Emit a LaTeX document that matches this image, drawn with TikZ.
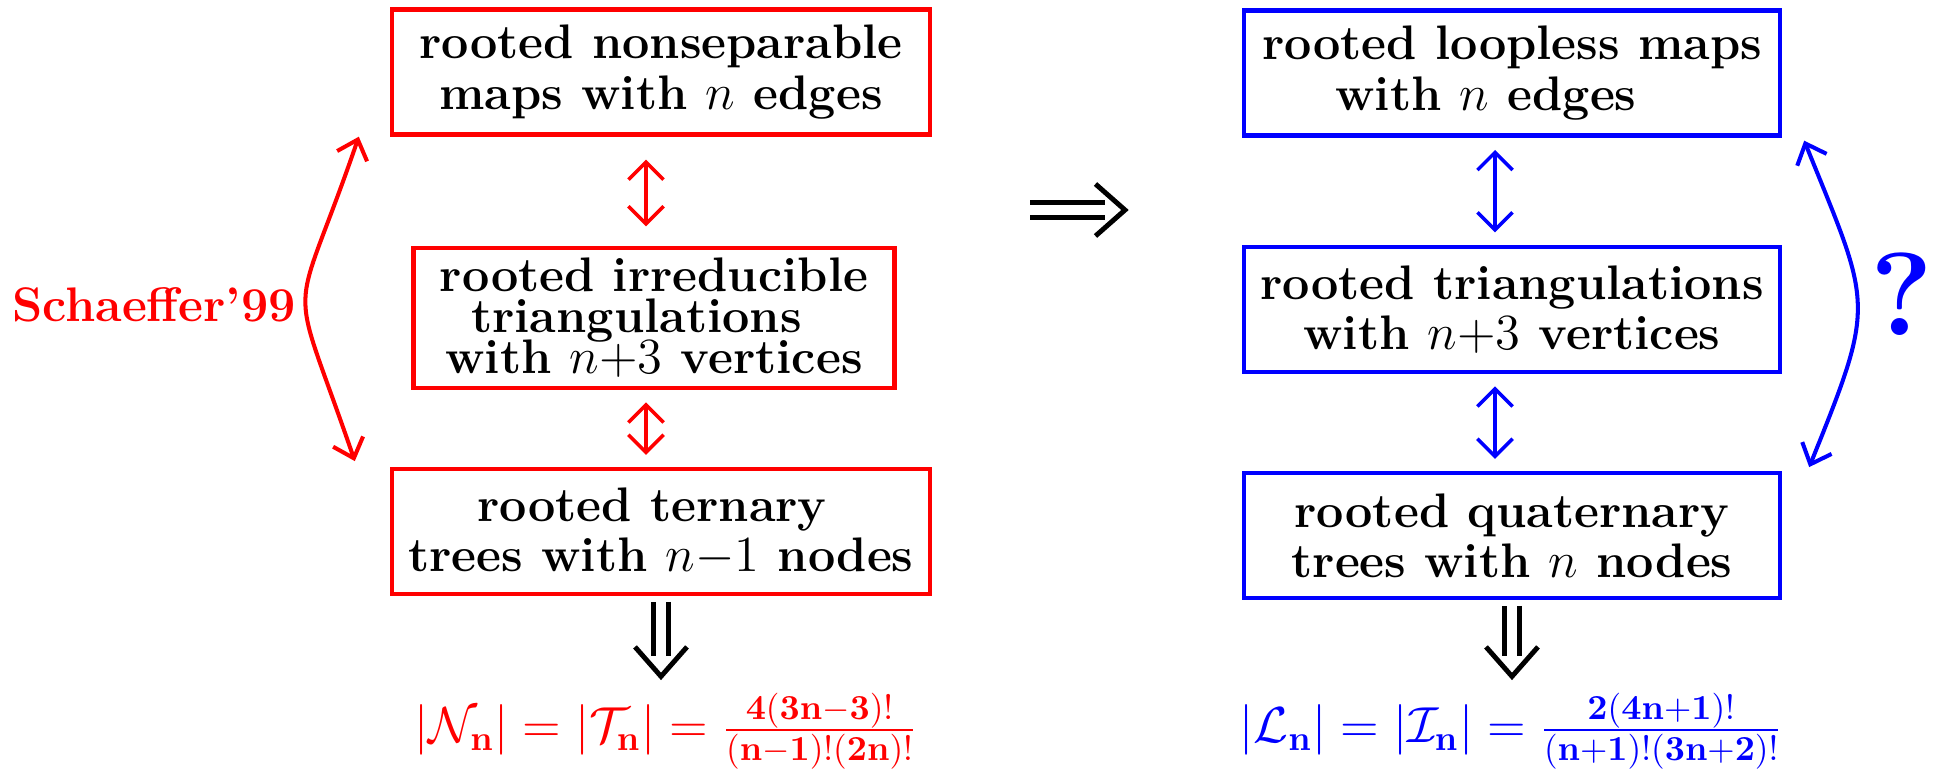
\documentclass[tikz,border=0pt]{standalone}
\usetikzlibrary{positioning,arrows.meta}
\setlength{\lineskiplimit}{-10pt}

% open V head for the implication arrows
\pgfdeclarearrow{
  name = Vhead,
  setup code = {
    \pgfarrowssettipend{0pt}
    \pgfarrowssetlineend{-5.8pt}
    \pgfarrowsupperhullpoint{-8.4pt}{7.4pt}
    \pgfarrowsupperhullpoint{0pt}{0pt}
  },
  drawing code = {
    \pgfsetlinewidth{1.4pt}
    \pgfsetdash{}{0pt}
    \pgfsetbuttcap
    \pgfsetmiterjoin
    \pgfpathmoveto{\pgfqpoint{-8.4pt}{7.4pt}}
    \pgfpathlineto{\pgfpointorigin}
    \pgfpathlineto{\pgfqpoint{-8.4pt}{-7.4pt}}
    \pgfusepathqstroke
  }
}

\begin{document}
\begin{tikzpicture}[node distance=1.1cm, every node/.style={font=\fontsize{13.8}{14.3}\selectfont\bfseries}]
\tikzstyle{lbox}=[draw=red, line width=1.25pt, align=center, minimum width=5.38cm, minimum height=1.25cm, inner sep=0pt]
\tikzstyle{rbox}=[draw=blue, line width=1.25pt, align=center, minimum width=5.36cm, minimum height=1.25cm, inner sep=0pt]
\tikzstyle{bij}=[line width=1pt, {Straight Barb[length=5pt,width=10pt]}-{Straight Barb[length=5pt,width=10pt]}, shorten <=3.5pt, shorten >=3.5pt]
\tikzstyle{arc}=[line width=1.15pt, {Straight Barb[length=5pt,width=9pt]}-{Straight Barb[length=5pt,width=9pt]}]
\tikzstyle{imp}=[double, double distance=2.8pt, line width=1.4pt, -Vhead]
\useasboundingbox (0,0) rectangle (19.33,-7.71);
\coordinate (lc) at (6.46,0);
\coordinate (rc) at (14.95,0);
% left column
\node[lbox] (L1) at (6.61,-0.72) {rooted nonseparable\\maps with $n$ edges};
\node[lbox, below=1.09cm of L1, xshift=-0.07cm, minimum width=4.81cm, minimum height=1.4cm] (L2) {rooted irreducible\\[-2.6pt] \hspace*{-0.35cm}triangulations\\[-2.6pt] with $n{+}3$ vertices};
\node[lbox, below=0.77cm of L2, xshift=0.07cm] (L3) {rooted ternary\hspace*{0.18cm}\\trees with $n{-}1$ nodes};
\node[red, inner sep=0pt, font=\fontsize{14.5}{17}\selectfont] (NL) at (6.66,-7.31) {$|\mathcal{N}_{\mathbf{n}}| = |\mathcal{T}_{\mathbf{n}}| = \frac{\mathbf{4(3n-3)!}}{\mathbf{(n-1)!(2n)!}}$};
\node[red] (sch) at (1.54,-3.05) {Schaeffer'99};
% right column
\node[rbox] (R1) at (15.12,-0.73) {rooted loopless maps\\with $n$ edges\hspace*{0.52cm}};
\node[rbox, below=1.07cm of R1] (R2) {rooted triangulations\\with $n{+}3$ vertices};
\node[rbox, below=0.97cm of R2] (R3) {rooted quaternary\\trees with $n$ nodes};
\node[blue, inner sep=0pt, font=\fontsize{14.5}{17}\selectfont] (NR) at (15.11,-7.31) {$|\mathcal{L}_{\mathbf{n}}| = |\mathcal{I}_{\mathbf{n}}| = \frac{\mathbf{2(4n+1)!}}{\mathbf{(n+1)!(3n+2)!}}$};
\node[blue, font=\fontsize{33.6}{38}\selectfont\bfseries] (q) at (19.02,-2.94) {?};
% bijections
\draw[bij, red, shorten <=6.5pt, shorten >=5.5pt] (L1.south -| lc) -- (L2.north -| lc);
\draw[bij, red] (L2.south -| lc) -- (L3.north -| lc);
\draw[bij, blue] (R1.south -| rc) -- (R2.north -| rc);
\draw[bij, blue] (R2.south -| rc) -- (R3.north -| rc);
\draw[arc, red] ([xshift=-0.31cm]L1.south west) .. controls +(-0.68,-1.98) and +(-0.68,1.98) .. ([xshift=-0.35cm,yshift=0.06cm]L3.north west);
\draw[arc, blue] ([xshift=0.22cm,yshift=-0.03cm]R1.south east) .. controls +(0.675,-1.67) and +(0.675,1.67) .. ([xshift=0.27cm,yshift=0.04cm]R3.north east);
% implications
\coordinate (ia) at (10.30,-2.10);
\coordinate (ib) at (11.25,-2.10);
\draw[imp] (ia) -- (ib);
\draw[imp, shorten <=1.5pt, shorten >=4.5pt] (L3.south) -- (L3.south |- NL.north);
\draw[imp, shorten <=1.5pt, shorten >=4.5pt] (R3.south) -- (R3.south |- NR.north);
\end{tikzpicture}
\end{document}
